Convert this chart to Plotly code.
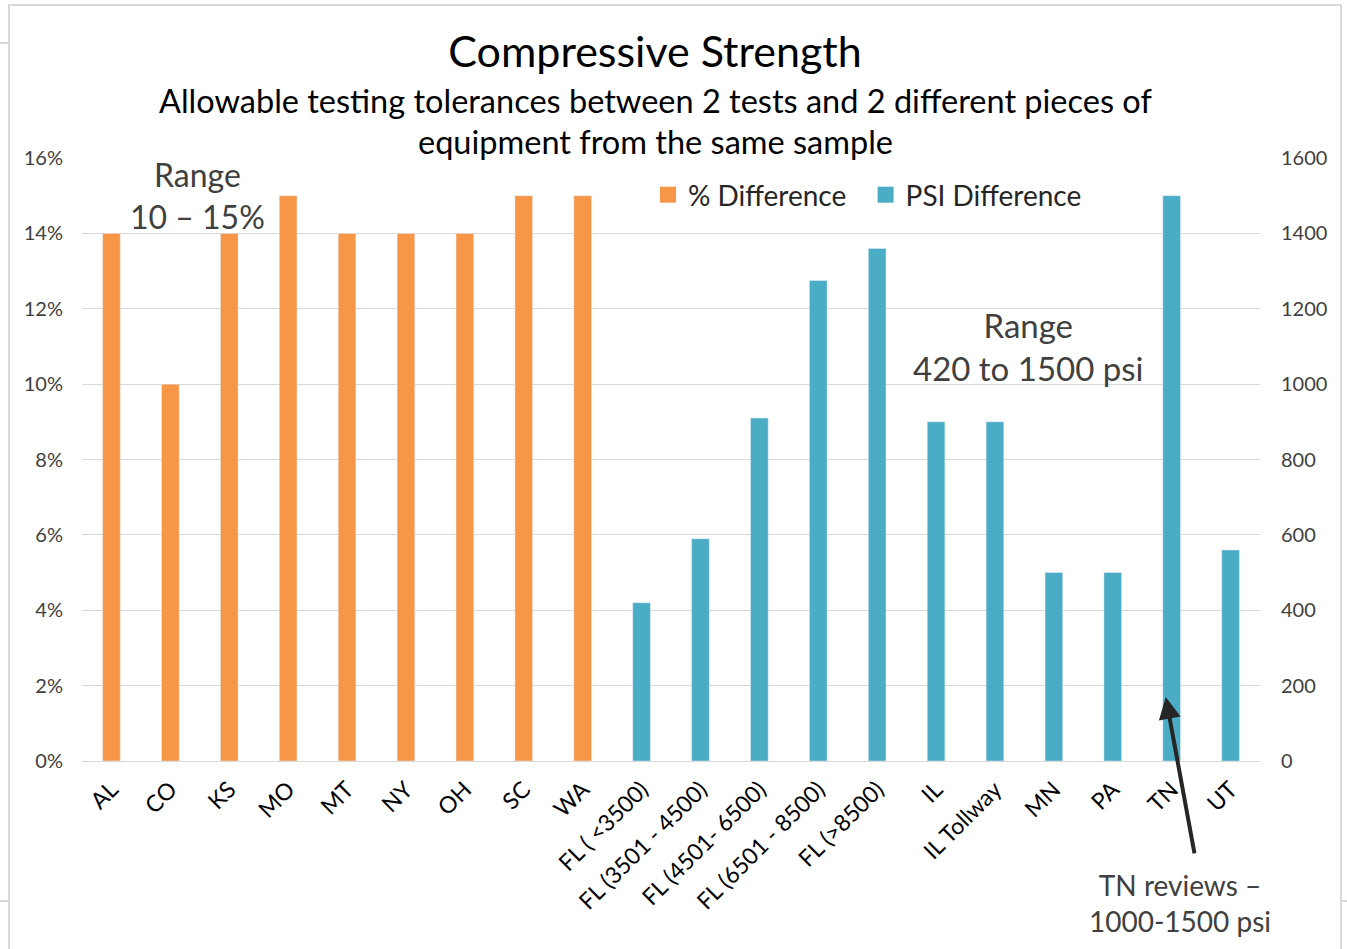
import plotly.graph_objects as go

categories = ["AL", "CO", "KS", "MO", "MT", "NY", "OH", "SC", "WA",
              "FL ( <3500)", "FL (3501 - 4500)", "FL (4501- 6500)", "FL (6501 - 8500)",
              "FL (>8500)", "IL", "IL Tollway", "MN", "PA", "TN", "UT"]
pct_states = ["AL", "CO", "KS", "MO", "MT", "NY", "OH", "SC", "WA"]
pct_values = [0.14, 0.10, 0.14, 0.15, 0.14, 0.14, 0.14, 0.15, 0.15]
psi_states = ["FL ( <3500)", "FL (3501 - 4500)", "FL (4501- 6500)", "FL (6501 - 8500)",
              "FL (>8500)", "IL", "IL Tollway", "MN", "PA", "TN", "UT"]
psi_values = [420, 590, 910, 1275, 1360, 900, 900, 500, 500, 1500, 560]

ORANGE = "#F79646"
TEAL = "#4BACC6"
FONT = "Lato"

W, H = 1347, 949
L, R, T, B = 82, 1260, 158, 761


def px(X):
    return (X - L) / (R - L)


def py(Y):
    return (B - Y) / (B - T)


fig = go.Figure()
fig.add_trace(go.Bar(x=pct_states, y=pct_values, name="% Difference",
                     marker_color=ORANGE, width=0.3, yaxis="y", showlegend=False))
fig.add_trace(go.Bar(x=psi_states, y=psi_values, name="PSI Difference",
                     marker_color=TEAL, width=0.3, yaxis="y2", showlegend=False))
# legend entries with larger square swatches
fig.add_trace(go.Scatter(x=[None], y=[None], mode="markers",
                         name="% Difference\u00a0\u00a0",
                         marker=dict(symbol="square", size=16, color=ORANGE)))
fig.add_trace(go.Scatter(x=[None], y=[None], mode="markers", name="PSI Difference",
                         marker=dict(symbol="square", size=16, color=TEAL)))

fig.update_layout(
    width=W, height=H,
    paper_bgcolor="white", plot_bgcolor="white",
    margin=dict(l=L, r=W - R, t=T, b=H - B),
    barmode="overlay",
    font=dict(family=FONT, color="#404040"),
    title=dict(
        text="Compressive Strength",
        x=655 / W, xanchor="center", y=1 - 52 / H, yanchor="middle",
        font=dict(size=43, color="#000000", family=FONT),
    ),
    xaxis=dict(
        categoryorder="array", categoryarray=categories,
        tickangle=-45, tickfont=dict(size=23, color="#000000"),
        showline=True, linecolor="#d9d9d9", linewidth=1,
        ticks="", showgrid=False, ticklabelstandoff=5,
    ),
    yaxis=dict(
        range=[0, 0.16], dtick=0.02, tickformat=".0%",
        showgrid=True, gridcolor="#d9d9d9", zeroline=False,
        tickfont=dict(size=20, color="#404040"), ticklabelstandoff=18,
    ),
    yaxis2=dict(
        range=[0, 1600], dtick=200, overlaying="y", side="right",
        showgrid=False, zeroline=False,
        tickfont=dict(size=20, color="#404040"), ticklabelstandoff=20,
    ),
    legend=dict(
        orientation="h", x=px(648), xanchor="left", y=py(195), yanchor="middle",
        font=dict(size=28, color="#262626"), bgcolor="rgba(0,0,0,0)",
        traceorder="normal", itemwidth=30,
    ),
    showlegend=True,
)

# subtitle (two lines)
fig.add_annotation(
    text="Allowable testing tolerances between 2 tests and 2 different pieces of",
    xref="paper", yref="paper", x=px(655), y=py(100), xanchor="center", yanchor="middle",
    showarrow=False, font=dict(size=32.5, color="#000000", family=FONT),
)
fig.add_annotation(
    text="equipment from the same sample",
    xref="paper", yref="paper", x=px(655), y=py(142), xanchor="center", yanchor="middle",
    showarrow=False, font=dict(size=32.5, color="#000000", family=FONT),
)

fig.add_annotation(
    text="Range<br>10 – 15%", xref="paper", yref="paper",
    x=px(197), y=py(195), xanchor="center", yanchor="middle",
    showarrow=False, font=dict(size=32, color="#404040", family=FONT),
)
fig.add_annotation(
    text="Range<br>420 to 1500 psi", xref="paper", yref="paper",
    x=px(1028), y=py(346), xanchor="center", yanchor="middle",
    showarrow=False, font=dict(size=33, color="#404040", family=FONT),
)
fig.add_annotation(
    text="TN reviews –<br>1000-1500 psi", xref="paper", yref="paper",
    x=px(1180), y=py(903), xanchor="center", yanchor="middle",
    showarrow=False, font=dict(size=28, color="#404040", family=FONT),
)
# arrow pointing at TN bar
fig.add_annotation(
    x=categories.index("TN") - 0.1, y=170, xref="x", yref="y2",
    ax=29, ay=158, axref="pixel", ayref="pixel",
    text="", showarrow=True, arrowhead=2, arrowsize=1.1, arrowwidth=4,
    arrowcolor="#262626",
)

# outer frame and slide edge lines
frame = dict(color="#d9d9d9", width=2)
fig.add_shape(type="rect", xref="paper", yref="paper",
              x0=px(9), x1=px(1341), y0=py(955), y1=py(5),
              line=frame, fillcolor="rgba(0,0,0,0)", layer="below")
fig.add_shape(type="line", xref="paper", yref="paper",
              x0=px(0), x1=px(9), y0=py(43), y1=py(43), line=frame)
fig.add_shape(type="line", xref="paper", yref="paper",
              x0=px(0), x1=px(9), y0=py(901), y1=py(901), line=frame)
fig.add_shape(type="line", xref="paper", yref="paper",
              x0=px(1341), x1=px(1347), y0=py(901), y1=py(901), line=frame)

fig.write_html("out.html", config={"displayModeBar": False},
               post_script="document.body.style.margin='0';")
